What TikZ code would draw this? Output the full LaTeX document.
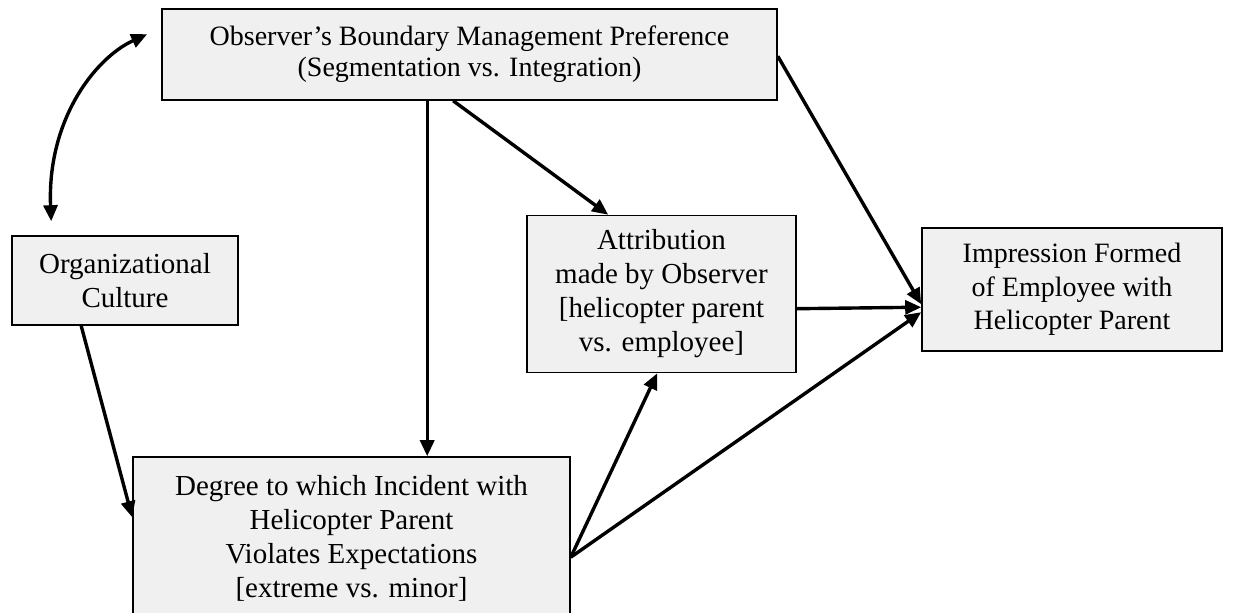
\documentclass[tikz,border=0pt]{standalone}
\usepackage{fontspec}
\setmainfont{Liberation Serif}
\usetikzlibrary{arrows.meta,calc}

\begin{document}
\begin{tikzpicture}[x=0.5pt,y=-0.5pt,>={Triangle[length=8pt,width=7pt]},
	box/.style={draw,line width=0.8pt,fill=gray!12,align=center,inner sep=0pt,
		font=\fontsize{14.5}{17}\selectfont},
	link/.style={->,line width=1.7pt}]

	\useasboundingbox (0,0) rectangle (1260,612);

	\node[box,minimum width=307.5pt,minimum height=45.5pt,
		font=\fontsize{14}{15.5}\selectfont] (obs) at (469.5,54.5)
		{Observer's Boundary Management Preference\\(Segmentation vs. Integration)};
	\node[box,minimum width=113pt,minimum height=44.5pt] (org) at (125,280.5)
		{Organizational\\Culture};
	\node[box,minimum width=134.5pt,minimum height=78.5pt] (attr) at (661.5,294)
		{Attribution\\made by Observer\\{}[helicopter parent\\vs. employee]};
	\node[box,minimum width=150pt,minimum height=61.5pt,
		font=\fontsize{14}{16.8}\selectfont] (imp) at (1072,289.5)
		{Impression Formed\\of Employee with\\Helicopter Parent};
	\node[box,minimum width=218.5pt,minimum height=81pt] (deg) at (351.5,538)
		{Degree to which Incident with\\Helicopter Parent\\Violates Expectations\\{}[extreme vs. minor]};

	% culture <-> preference
	\draw[<->,line width=1.7pt] ($(org.north west)+(40,-14)$)
		.. controls (47,120) and (95,58) .. ($(obs.north west)+(-14,26)$);

	\draw[link] ($(obs.south west)+(266,0)$) -- ($(deg.north west)+(295,0)$);
	\draw[link] ($(obs.south west)+(292,0)$) -- ($(attr.north west)+(82,0)$);
	\draw[link] ($(obs.north east)+(0,48)$) -- ($(imp.north west)+(0,77)$);
	\draw[link] ($(attr.north east)+(0,94)$) -- ($(imp.north west)+(0,80)$);
	\draw[link] ($(deg.north east)+(0,101)$) -- ($(imp.north west)+(0,85)$);
	\draw[link] ($(deg.north east)+(0,101)$) -- ($(attr.south west)+(131,0)$);
	\draw[link] ($(org.south west)+(70,0)$) -- ($(deg.north west)+(0,61)$);

\end{tikzpicture}
\end{document}
